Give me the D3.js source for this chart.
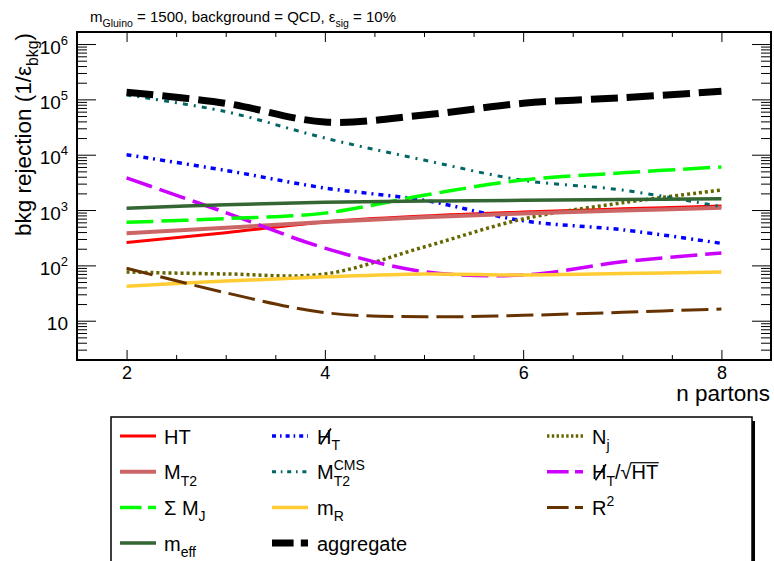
<!DOCTYPE html>
<html><head><meta charset="utf-8">
<script src="https://cdn.jsdelivr.net/npm/d3@7"></script>
<style>
html,body{margin:0;padding:0;background:#fff;}
svg{display:block;font-family:"Liberation Sans",Arial,Helvetica,sans-serif;}
</style>
</head><body>
<svg id="chart" width="774" height="561"></svg>
<script>
// Background rejection (1/eps_bkg) at eps_sig = 10% vs number of partons
const nPartons = [2, 3, 4, 5, 6, 7, 8];
const xTickValues = [2, 4, 6, 8];
const yTickValues = [10, 100, 1000, 10000, 100000, 1000000];

const rejHT        = [260, 390, 610, 780, 920, 1050, 1180];
const rejMT2       = [380, 480, 610, 740, 870, 980, 1100];
const rejSumMJ     = [600, 700, 880, 1850, 3500, 4700, 6000];
const rejMeff      = [1080, 1250, 1380, 1450, 1500, 1550, 1600];
const rejMHT       = [10000, 5200, 2500, 1500, 640, 440, 250];
const rejMT2CMS    = [120000, 60000, 20000, 8000, 3450, 2300, 1150];
const rejMR        = [42, 52, 62, 70, 67, 71, 76];
const rejAggregate = [135000, 85000, 39000, 52000, 85000, 107000, 140000];
const rejNj        = [76, 70, 70, 215, 690, 1350, 2300];
const rejMHTsqrtHT = [3800, 900, 205, 77, 67, 116, 167];
const rejR2        = [89, 32, 14, 11.8, 12.5, 14.2, 16.3];

const W = 774, H = 561;
const X0 = 77, X1 = 771, Y0 = 32, Y1 = 360;
const FONT = '"Liberation Sans",Arial,Helvetica,sans-serif';

const svg = d3.select('#chart');

const x = d3.scaleLinear().domain([1.5, 8.5]).range([X0, X1]);
const y = d3.scaleLog().domain([1.95, 1.65e6]).range([Y1, Y0]);

// Append text pieces as tspans: normal, subscript, superscript, with optional dx
function rich(textSel, parts, base) {
  let cur = 0;
  parts.forEach(p => {
    const k = p.k || 'n';
    const target = k === 'sub' ? base * 0.32 : k === 'sup' ? -base * 0.45 : 0;
    const ts = textSel.append('tspan').text(p.t);
    const dy = target - cur;
    cur = target;
    if (dy) ts.attr('dy', dy);
    if (p.dx) ts.attr('dx', p.dx);
    if (k === 'sub' || k === 'sup') ts.attr('font-size', base * 0.7);
  });
  return textSel;
}

// Series in drawing order (also legend order, row by row in three columns)
const series = [
  {vals: rejHT, color: '#ff0000', w: 3, dash: null,
   label: [{t: 'HT'}]},
  {vals: rejMHT, color: '#0000ff', w: 3.5, dash: [5, 5, 2, 5], slashH: true,
   label: [{t: 'H'}, {t: 'T', k: 'sub'}]},
  {vals: rejNj, color: '#666600', w: 3.5, dash: [3, 3],
   label: [{t: 'N'}, {t: 'j', k: 'sub'}]},
  {vals: rejMT2, color: '#cc6666', w: 4, dash: null,
   label: [{t: 'M'}, {t: 'T2', k: 'sub'}]},
  {vals: rejMT2CMS, color: '#006666', w: 3, dash: [5, 6, 2, 6],
   label: [{t: 'M'}, {t: 'T2', k: 'sub'}, {t: 'CMS', k: 'sup', dx: -16.3}]},
  {vals: rejMHTsqrtHT, color: '#cc00ff', w: 3.5, dash: [27, 8], slashH: true, sqrt: true,
   label: [{t: 'H'}, {t: 'T', k: 'sub'}, {t: '/'}, {t: '\u221A'}, {t: 'HT'}]},
  {vals: rejSumMJ, color: '#00ff00', w: 3.5, dash: [27, 8],
   label: [{t: '\u03A3 M'}, {t: 'J', k: 'sub'}]},
  {vals: rejMR, color: '#ffcc33', w: 3.5, dash: null,
   label: [{t: 'm'}, {t: 'R', k: 'sub'}]},
  {vals: rejR2, color: '#663300', w: 3, dash: [27, 8],
   label: [{t: 'R'}, {t: '2', k: 'sup'}]},
  {vals: rejMeff, color: '#336633', w: 3.5, dash: null,
   label: [{t: 'm'}, {t: 'eff', k: 'sub'}]},
  {vals: rejAggregate, color: '#000000', w: 7, dash: [27, 9],
   label: [{t: 'aggregate'}]}
];

// Page background
svg.append('rect').attr('x', 0).attr('y', 0).attr('width', W).attr('height', H).attr('fill', '#fff');

svg.append('defs').append('clipPath').attr('id', 'plotclip')
  .append('rect').attr('x', X0).attr('y', Y0).attr('width', X1 - X0).attr('height', Y1 - Y0);

// Curves
const line = d3.line()
  .x((d, i) => x(nPartons[i]))
  .y(d => y(d))
  .curve(d3.curveCatmullRom.alpha(0.5));

const plot = svg.append('g').attr('clip-path', 'url(#plotclip)');
series.forEach(s => {
  plot.append('path')
    .datum(s.vals)
    .attr('d', line)
    .attr('fill', 'none')
    .attr('stroke', s.color)
    .attr('stroke-width', s.w)
    .attr('stroke-dasharray', s.dash ? s.dash.join(',') : null);
});

// Axes: ticks point inward, minor ticks on every side
const xMinor = d3.range(1.5, 8.51, 0.5).filter(v => xTickValues.indexOf(v) < 0 && v > 1.5 && v < 8.5);
const yMinor = [];
for (let e = 0; e < 6; e++) for (let m = 2; m <= 9; m++) {
  const v = m * Math.pow(10, e);
  if (v >= 2.5 && v < 1e6) yMinor.push(v);
}

function styleAxis(g) {
  g.select('.domain').remove();
  g.selectAll('.tick line').attr('stroke', '#000').attr('stroke-width', 1);
  g.attr('font-family', FONT);
}

svg.append('g').attr('transform', `translate(0,${Y1})`)
  .call(d3.axisBottom(x).tickValues(xTickValues).tickSizeInner(-10).tickSizeOuter(0)
    .tickPadding(6).tickFormat(d3.format('d')))
  .call(styleAxis)
  .call(g => g.selectAll('.tick text').attr('font-size', 18).attr('fill', '#000'));
svg.append('g').attr('transform', `translate(0,${Y1})`)
  .call(d3.axisBottom(x).tickValues(xMinor).tickSizeInner(-5).tickSizeOuter(0).tickFormat(''))
  .call(styleAxis);
svg.append('g').attr('transform', `translate(0,${Y0})`)
  .call(d3.axisTop(x).tickValues(xTickValues).tickSizeInner(-10).tickSizeOuter(0).tickFormat(''))
  .call(styleAxis);
svg.append('g').attr('transform', `translate(0,${Y0})`)
  .call(d3.axisTop(x).tickValues(xMinor).tickSizeInner(-5).tickSizeOuter(0).tickFormat(''))
  .call(styleAxis);

svg.append('g').attr('transform', `translate(${X0},0)`)
  .call(d3.axisLeft(y).tickValues(yTickValues).tickSizeInner(-19).tickSizeOuter(0)
    .tickPadding(9).tickFormat(d => '10'))
  .call(styleAxis)
  .call(g => g.selectAll('.tick text')
    .attr('font-size', 19).attr('fill', '#000').attr('dy', '0.48em')
    .each(function(d) {
      const e = Math.round(Math.log10(d));
      if (e > 1) d3.select(this).append('tspan').attr('dy', -9).attr('font-size', 13).text(e);
    }));
svg.append('g').attr('transform', `translate(${X0},0)`)
  .call(d3.axisLeft(y).tickValues(yMinor).tickSizeInner(-10).tickSizeOuter(0).tickFormat(''))
  .call(styleAxis);
svg.append('g').attr('transform', `translate(${X1},0)`)
  .call(d3.axisRight(y).tickValues(yTickValues).tickSizeInner(-19).tickSizeOuter(0).tickFormat(''))
  .call(styleAxis);
svg.append('g').attr('transform', `translate(${X1},0)`)
  .call(d3.axisRight(y).tickValues(yMinor).tickSizeInner(-10).tickSizeOuter(0).tickFormat(''))
  .call(styleAxis);

// Frame
svg.append('rect').attr('x', X0).attr('y', Y0).attr('width', X1 - X0).attr('height', Y1 - Y0)
  .attr('fill', 'none').attr('stroke', '#000').attr('stroke-width', 2);

// Title
rich(svg.append('text').attr('x', 90).attr('y', 22).attr('font-size', 15).attr('fill', '#000'),
  [{t: 'm'}, {t: 'Gluino', k: 'sub'}, {t: ' = 1500, background = QCD, \u03B5'},
   {t: 'sig', k: 'sub'}, {t: ' = 10%'}], 15);

// Axis titles
rich(svg.append('text').attr('transform', `translate(31,${Y0 + 1}) rotate(-90)`)
  .attr('text-anchor', 'end').attr('font-size', 22.5).attr('fill', '#000'),
  [{t: 'bkg rejection (1/\u03B5'}, {t: 'bkg', k: 'sub'}, {t: ')'}], 22.5);

svg.append('text').attr('x', X1 - 1).attr('y', 401).attr('text-anchor', 'end')
  .attr('font-size', 22.5).attr('fill', '#000').text('n partons');

// Legend
const LX = 111, LY = 417, LW = 641;
const leg = svg.append('g');
leg.append('rect').attr('x', LX + 3).attr('y', LY + 4).attr('width', LW).attr('height', 200).attr('fill', '#000');
leg.append('rect').attr('x', LX).attr('y', LY).attr('width', LW).attr('height', 200)
  .attr('fill', '#fff').attr('stroke', '#000').attr('stroke-width', 1.5);

const colSample = [120, 272, 547];
const colText = [164, 317, 592];
series.forEach((s, i) => {
  const c = i % 3, r = Math.floor(i / 3);
  const cy = 436 + r * 35.7;
  const base = cy + 7.5;
  leg.append('line')
    .attr('x1', colSample[c]).attr('x2', colSample[c] + 36)
    .attr('y1', cy).attr('y2', cy)
    .attr('stroke', s.color).attr('stroke-width', s.w)
    .attr('stroke-dasharray', s.dash ? s.dash.map(v => v * 0.8).join(',') : null);
  const t = rich(leg.append('text').attr('x', colText[c]).attr('y', base)
    .attr('font-size', 20).attr('fill', '#000'), s.label, 20);
  const node = t.node();
  if (s.slashH) {
    // slash drawn across the leading H (missing transverse momentum)
    const hx0 = node.getStartPositionOfChar(0).x;
    const hx1 = node.getEndPositionOfChar(0).x;
    leg.append('line')
      .attr('x1', hx0 + 3.5).attr('y1', base + 1)
      .attr('x2', hx1 - 0.5).attr('y2', base - 15)
      .attr('stroke', '#000').attr('stroke-width', 1.6);
  }
  if (s.sqrt) {
    const txt = node.textContent;
    const iH = txt.lastIndexOf('HT');
    const iR = txt.indexOf('\u221A');
    const x1 = node.getEndPositionOfChar(iR).x - 1;
    const x2 = node.getEndPositionOfChar(iH + 1).x + 0.5;
    leg.append('line').attr('x1', x1).attr('x2', x2)
      .attr('y1', cy - 9).attr('y2', cy - 9)
      .attr('stroke', '#000').attr('stroke-width', 1.2);
  }
});
</script>
</body></html>
